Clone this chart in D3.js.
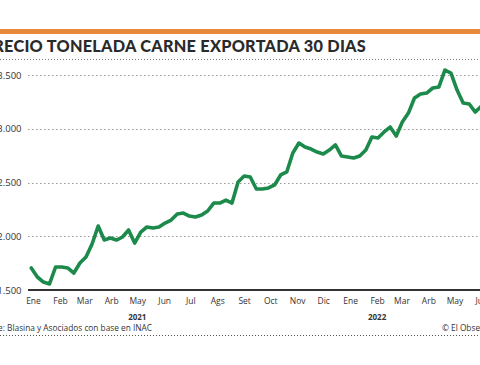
<!DOCTYPE html>
<html><head><meta charset="utf-8">
<script src="https://cdn.jsdelivr.net/npm/d3@7"></script>
<style>
html,body{margin:0;padding:0;background:#fff;}
svg{display:block;}
text{font-family:"Open Sans","Noto Sans",sans-serif;}
</style></head>
<body>
<svg id="c" width="480" height="365"></svg>
<script>
const title = "PRECIO TONELADA CARNE EXPORTADA 30 DIAS";
const source = "Fuente: Blasina y Asociados con base en INAC";
const credit = "© El Observador";
const monthLabels = ["Ene","Feb","Mar","Arb","May","Jun","Jul","Ags","Set","Oct","Nov","Dic","Ene","Feb","Mar","Arb","May","Jun"];
const yearLabels = ["2021","2022"];
const yTicks = [1500,2000,2500,3000,3500];
const startDate = "2020-12-30"; // first weekly observation
const values = [
1705,1621,1574,1556,1714,1714,1705,1658,1751,1807,
1928,2095,1965,1984,1965,1993,2058,1937,2039,2086,
2077,2086,2123,2151,2207,2216,2188,2179,2198,2235,
2309,2309,2337,2309,2505,2560,2551,2439,2439,2449,
2477,2570,2598,2774,2867,2830,2811,2783,2765,2802,
2849,2746,2737,2728,2746,2802,2923,2914,2970,3016,
2932,3062,3146,3286,3323,3332,3379,3388,3546,3518,
3360,3239,3230,3155,3211
];

const svg = d3.select("#c");
const parse = d3.utcParse("%Y-%m-%d");
const t0 = parse(startDate);
const data = values.map((v,i)=>({date:d3.utcDay.offset(t0, 7*i), value:v}));

const x = d3.scaleUtc().domain([parse("2021-01-01"), parse("2022-06-01")]).range([33, 481.4]);
const y = d3.scaleLinear().domain([1500,3500]).range([290,75]);

const loc = d3.formatLocale({decimal:",", thousands:".", grouping:[3], currency:["$",""]});
const fmt = loc.format(",");

// top orange bar
svg.append("rect").attr("x",0).attr("y",29).attr("width",480).attr("height",5).attr("fill","#e8893a");

// title
svg.append("text").attr("x",366).attr("y",52).attr("text-anchor","end")
  .attr("font-size",16.3).attr("font-weight",900).attr("fill","#2a2a2a")
  .style("font-family","Lato, 'Open Sans', sans-serif").style("letter-spacing","0.25px")
  .text(title);

// dotted line under title
svg.append("line").attr("x1",0).attr("x2",480).attr("y1",59.5).attr("y2",59.5)
  .attr("stroke","#777").attr("stroke-width",1).attr("stroke-dasharray","1,2");

// gridlines
svg.append("g").selectAll("line").data(yTicks.filter(d=>d>1500)).join("line")
  .attr("x1",28).attr("x2",480).attr("y1",d=>Math.round(y(d))+0.5).attr("y2",d=>Math.round(y(d))+0.5)
  .attr("stroke","#999").attr("stroke-width",1).attr("stroke-dasharray","1.5,2.5");

// y axis labels
const yAxis = d3.axisLeft(y).tickValues(yTicks).tickFormat(fmt).tickSize(0).tickPadding(0);
svg.append("g").attr("transform","translate(21.5,0)").call(yAxis)
  .call(g=>g.select(".domain").remove())
  .call(g=>g.selectAll("text").attr("font-size",9.5).attr("fill","#333").style("font-family","'Open Sans',sans-serif"));

// baseline
svg.append("line").attr("x1",28).attr("x2",480).attr("y1",y(1500)).attr("y2",y(1500))
  .attr("stroke","#333").attr("stroke-width",2);

// x axis month labels
const months = d3.utcMonth.range(parse("2021-01-01"), parse("2022-06-02"));
const xAxis = d3.axisBottom(x).tickValues(months).tickFormat((d,i)=>monthLabels[i]).tickSize(0).tickPadding(0);
svg.append("g").attr("transform","translate(0,298)").call(xAxis)
  .call(g=>g.select(".domain").remove())
  .call(g=>g.selectAll("text").attr("font-size",8.5).attr("fill","#333").style("font-family","'Open Sans',sans-serif"));

// year labels
const yearDates = [parse("2021-05-01"), parse("2022-02-01")];
svg.append("g").selectAll("text").data(yearLabels).join("text")
  .attr("x",(d,i)=>x(yearDates[i])).attr("y",320).attr("text-anchor","middle")
  .attr("font-size",8).attr("font-weight",700).attr("fill","#333").text(d=>d);

// line
svg.append("path").datum(data)
  .attr("fill","none").attr("stroke","#1b8a4b").attr("stroke-width",3.6)
  .attr("stroke-linejoin","round").attr("stroke-linecap","round")
  .attr("d", d3.line().x(d=>x(d.date)).y(d=>y(d.value)));

// source & credit
svg.append("text").attr("x",152).attr("y",331).attr("text-anchor","end").attr("font-size",8.3).attr("fill","#333").text(source);
svg.append("text").attr("x",442).attr("y",331).attr("font-size",8.3).attr("fill","#333").text(credit);
svg.append("line").attr("x1",0).attr("x2",480).attr("y1",335.5).attr("y2",335.5)
  .attr("stroke","#555").attr("stroke-width",1).attr("stroke-dasharray","1,2");
</script>
</body></html>
